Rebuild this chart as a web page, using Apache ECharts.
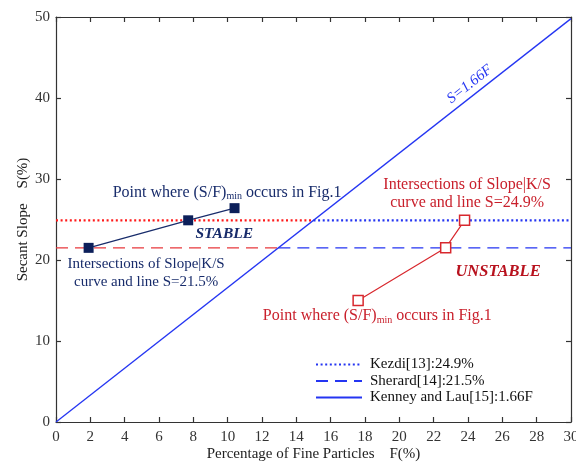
<!DOCTYPE html>
<html>
<head>
<meta charset="utf-8">
<script src="https://cdn.jsdelivr.net/npm/echarts@6/dist/echarts.min.js"></script>
<style>
  html, body { margin: 0; padding: 0; background: #fff; }
  #chart { width: 576px; height: 463px; }
</style>
</head>
<body>
<div id="chart"></div>
<script>
// Criteria levels (secant slope, %) and the Kenney & Lau boundary slope
const kezdiLevel = 24.9;
const sherardLevel = 21.5;
const kenneySlope = 1.66;

// Stable grading: fines content F(%) and secant slope S(%)
const stableF = [1.9, 7.7, 10.4];
const stableS = [21.5, 24.9, 26.4];

// Unstable grading
const unstableF = [17.6, 22.7, 23.8];
const unstableS = [15.0, 21.5, 24.9];

// Axis ranges
const xRange = [0, 30, 2];
const yRange = [0, 50, 10];

const legendNames = ['Kezdi[13]:24.9%', 'Sherard[14]:21.5%', 'Kenney and Lau[15]:1.66F'];

const FONT = '"Liberation Serif", "Times New Roman", serif';
const NAVY = '#182c6b';
const BLUE = '#2435f2';
const RED_TXT = '#c9202c';

// where each criterion level meets the S = 1.66F line
const kezdiCross = kezdiLevel / kenneySlope;
const sherardCross = sherardLevel / kenneySlope;

const zip = (a, b) => a.map((v, i) => [v, b[i]]);

const chart = echarts.init(document.getElementById('chart'), null, { renderer: 'canvas' });

const axisCommon = {
  type: 'value',
  axisLine: { show: true, onZero: false, lineStyle: { color: '#333', width: 1.2 } },
  axisTick: { show: true, inside: true, length: 5, lineStyle: { color: '#333', width: 1.2 } },
  splitLine: { show: false }
};

chart.setOption({
  animation: false,
  backgroundColor: '#fff',
  grid: { left: 56, right: 5, top: 17, bottom: 41, outerBoundsMode: 'none', containLabel: false },
  legend: {
    data: legendNames.map(n => ({ name: n, itemStyle: { opacity: 0 } })),
    orient: 'vertical',
    left: 310,
    top: 352,
    itemWidth: 46,
    itemHeight: 14,
    itemGap: 1.5,
    itemStyle: { opacity: 0 },
    textStyle: { fontFamily: FONT, fontSize: 15, color: '#111', padding: [0, 0, 0, 3] }
  },
  xAxis: [
    Object.assign({}, axisCommon, {
      min: xRange[0], max: xRange[1], interval: xRange[2],
      position: 'bottom',
      name: 'Percentage of Fine Particles    F(%)',
      nameLocation: 'middle',
      nameGap: 25,
      nameMoveOverlap: false,
      nameTextStyle: { fontFamily: FONT, fontSize: 15, color: '#222' },
      axisLabel: { fontFamily: FONT, fontSize: 15, color: '#333', margin: 8 }
    }),
    Object.assign({}, axisCommon, {
      min: xRange[0], max: xRange[1], interval: xRange[2],
      position: 'top',
      axisLabel: { show: false }
    })
  ],
  yAxis: [
    Object.assign({}, axisCommon, {
      min: yRange[0], max: yRange[1], interval: yRange[2],
      position: 'left',
      name: 'Secant Slope    S(%)',
      nameLocation: 'middle',
      nameGap: 25,
      nameMoveOverlap: false,
      nameTextStyle: { fontFamily: FONT, fontSize: 15, color: '#222' },
      axisLabel: { fontFamily: FONT, fontSize: 15, color: '#333', margin: 6 }
    }),
    Object.assign({}, axisCommon, {
      min: yRange[0], max: yRange[1], interval: yRange[2],
      position: 'right',
      axisLabel: { show: false }
    })
  ],
  series: [
    {
      name: 'kezdi-left', type: 'line', symbol: 'none', silent: true,
      data: [[xRange[0], kezdiLevel], [kezdiCross, kezdiLevel]],
      lineStyle: { color: '#ff1a1a', width: 2.2, type: [2, 2.6] }
    },
    {
      name: legendNames[0], type: 'line', symbol: 'none', silent: true,
      data: [[kezdiCross, kezdiLevel], [xRange[1], kezdiLevel]],
      lineStyle: { color: BLUE, width: 2.2, type: [2, 2.6] },
      itemStyle: { color: BLUE }
    },
    {
      name: 'sherard-left', type: 'line', symbol: 'none', silent: true,
      data: [[xRange[0], sherardLevel], [sherardCross, sherardLevel]],
      lineStyle: { color: '#e8383c', width: 1.3, type: [12, 7] }
    },
    {
      name: legendNames[1], type: 'line', symbol: 'none', silent: true,
      data: [[sherardCross, sherardLevel], [xRange[1], sherardLevel]],
      lineStyle: { color: BLUE, width: 1.3, type: [12, 7] },
      itemStyle: { color: BLUE }
    },
    {
      name: legendNames[2], type: 'line', symbol: 'none', silent: true,
      data: [[0, 0], [xRange[1], kenneySlope * xRange[1]]],
      lineStyle: { color: BLUE, width: 1.3 },
      itemStyle: { color: BLUE }
    },
    {
      name: 'stable', type: 'line', silent: true,
      data: zip(stableF, stableS),
      symbol: 'rect', symbolSize: 10,
      lineStyle: { color: NAVY, width: 1.2 },
      itemStyle: { color: '#0c1f5a' }
    },
    {
      name: 'unstable', type: 'line', silent: true,
      data: zip(unstableF, unstableS),
      symbol: 'rect', symbolSize: 10,
      lineStyle: { color: '#d8282e', width: 1.2 },
      itemStyle: { color: '#fff', borderColor: '#d8282e', borderWidth: 1.5 }
    }
  ]
});

// Text annotations, anchored in data units (F, S)
const px = (f, s) => chart.convertToPixel({ xAxisIndex: 0, yAxisIndex: 0 }, [f, s]);
const subRich = (color) => ({
  a: { fontFamily: FONT, fontSize: 16, fill: color, lineHeight: 18 },
  s: { fontFamily: FONT, fontSize: 10, fill: color, lineHeight: 10, verticalAlign: 'bottom' }
});

const notes = [
  { at: [3.3, 28.3], align: 'left', color: NAVY, size: 16,
    text: '{a|Point where (S/F)}{s|min}{a| occurs in Fig.1}', rich: subRich(NAVY) },
  { at: [5.25, 18.4], align: 'center', color: NAVY, size: 15,
    text: 'Intersections of Slope|K/S\ncurve and line S=21.5%' },
  { at: [9.8, 23.2], align: 'center', color: NAVY, size: 15.5, bold: true,
    text: 'STABLE' },
  { at: [23.95, 28.15], align: 'center', color: RED_TXT, size: 16,
    text: 'Intersections of Slope|K/S\ncurve and line S=24.9%' },
  { at: [25.75, 18.5], align: 'center', color: '#b8121e', size: 16.5, bold: true,
    text: 'UNSTABLE' },
  { at: [12.05, 13.1], align: 'left', color: RED_TXT, size: 16,
    text: '{a|Point where (S/F)}{s|min}{a| occurs in Fig.1}', rich: subRich(RED_TXT) }
];

const graphics = notes.map(n => {
  const p = px(n.at[0], n.at[1]);
  const style = {
    text: n.text,
    x: 0, y: 0,
    align: n.align,
    verticalAlign: 'middle',
    fontFamily: FONT,
    fontSize: n.size,
    lineHeight: 18,
    fill: n.color
  };
  if (n.bold) { style.fontWeight = 'bold'; style.fontStyle = 'italic'; }
  if (n.rich) { style.rich = n.rich; }
  return { type: 'text', x: p[0], y: p[1], silent: true, style: style };
});

// label written along the S = 1.66F line
const p0 = px(0, 0);
const p1 = px(xRange[1], kenneySlope * xRange[1]);
const angle = Math.atan2(p0[1] - p1[1], p1[0] - p0[0]);
const lp = px(24.1, 41.7);
graphics.push({
  type: 'text', x: lp[0], y: lp[1], rotation: angle, silent: true,
  style: {
    text: 'S=1.66F', x: 0, y: 0, align: 'center', verticalAlign: 'middle',
    fontFamily: FONT, fontSize: 15, fontStyle: 'italic', fill: BLUE
  }
});

chart.setOption({ graphic: graphics });
</script>
</body>
</html>
